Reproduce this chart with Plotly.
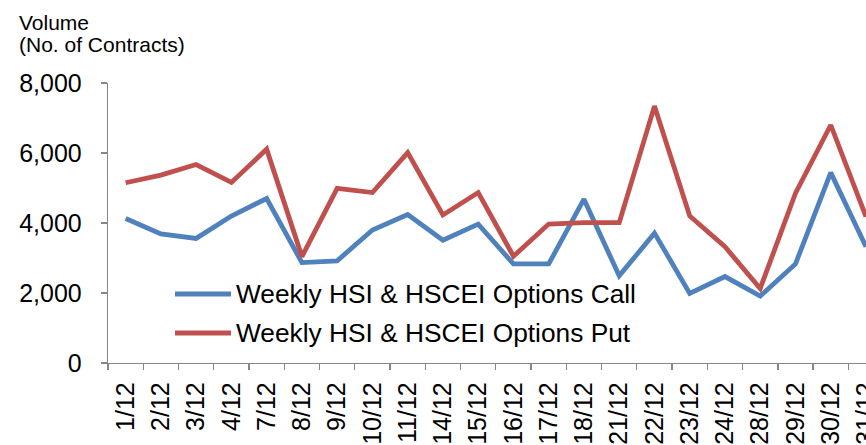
import plotly.graph_objects as go

dates = ["1/12", "2/12", "3/12", "4/12", "7/12", "8/12", "9/12", "10/12", "11/12",
         "14/12", "15/12", "16/12", "17/12", "18/12", "21/12", "22/12", "23/12",
         "24/12", "28/12", "29/12", "30/12", "31/12"]
call_vol = [4130, 3690, 3560, 4200, 4700, 2870, 2920, 3800, 4240, 3510, 3970,
            2830, 2830, 4680, 2490, 3710, 1990, 2470, 1910, 2830, 5440, 3320]
put_vol = [5150, 5370, 5670, 5160, 6110, 3040, 4990, 4870, 6010, 4230, 4870,
           3050, 3970, 4010, 4010, 7340, 4200, 3320, 2130, 4850, 6800, 4180]
series_names = ["Weekly HSI & HSCEI Options Call", "Weekly HSI & HSCEI Options Put"]
colors = ["#4F81BD", "#C0504D"]

FONT = "Liberation Sans, Arial, sans-serif"
AXC = "#868686"

fig = go.Figure()
for name, vals, col in zip(series_names, [call_vol, put_vol], colors):
    fig.add_trace(go.Scatter(x=dates, y=vals, mode="lines", name=name,
                             line=dict(color=col, width=4.8), showlegend=False))

# manual legend (long line samples like the reference)
legend_y = [0.2464, 0.1071]
shapes = []
annotations = []
for name, col, ly in zip(series_names, colors, legend_y):
    shapes.append(dict(type="line", xref="paper", yref="paper",
                       x0=0.0884, x1=0.1623, y0=ly, y1=ly,
                       line=dict(color=col, width=5)))
    annotations.append(dict(text=name, xref="paper", yref="paper",
                            x=0.1662, y=ly, xanchor="left", yanchor="middle",
                            showarrow=False, font=dict(size=26.3, family=FONT)))

annotations += [
    dict(text="Volume", xref="paper", yref="paper", x=-0.1201, y=1.216,
         xanchor="left", yanchor="middle", showarrow=False,
         font=dict(size=21, family=FONT)),
    dict(text="(No. of Contracts)", xref="paper", yref="paper", x=-0.1201, y=1.139,
         xanchor="left", yanchor="middle", showarrow=False,
         font=dict(size=21, family=FONT)),
]

fig.update_layout(
    template="none",
    width=866, height=445,
    margin=dict(l=108, r=0, t=83, b=82, autoexpand=False),
    paper_bgcolor="white", plot_bgcolor="white",
    font=dict(family=FONT, color="black"),
    showlegend=False,
    hovermode=False,
    xaxis=dict(type="category", range=[-0.5, 21.0], showgrid=False,
               showline=True, linecolor=AXC, linewidth=1.3,
               ticks="outside", ticklen=6, tickcolor=AXC, tickwidth=1.3,
               tickson="boundaries", tickangle=-90, automargin=False,
               tickfont=dict(size=25, family=FONT), ticklabelstandoff=8),
    yaxis=dict(range=[0, 8000], dtick=2000, tickformat=",", showgrid=False,
               zeroline=False, showline=True, linecolor=AXC, linewidth=1.3,
               ticks="outside", ticklen=6, tickcolor=AXC, tickwidth=1.3,
               automargin=False, tickfont=dict(size=25, family=FONT),
               ticklabelstandoff=14),
    shapes=shapes,
    annotations=annotations,
)

fig.write_html("out.html",
               config={"displayModeBar": False, "staticPlot": True},
               post_script="document.body.style.margin='0';document.body.style.overflow='hidden';")
